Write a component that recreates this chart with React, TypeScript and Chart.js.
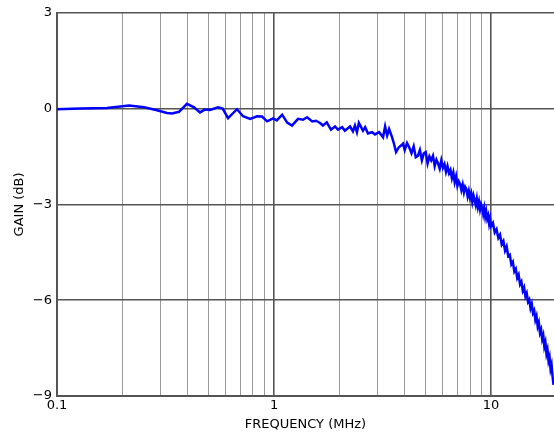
import { useEffect, useRef } from 'react';
import { Chart, registerables } from 'chart.js';

Chart.register(...registerables);

const FREQ_MHZ = [
  0.1, 0.128, 0.17, 0.215, 0.252, 0.289, 0.321, 0.339, 0.365, 0.397, 0.428, 0.456, 0.48, 0.507,
  0.552, 0.58, 0.614, 0.675, 0.72, 0.776, 0.835, 0.88, 0.93, 0.99, 1.03, 1.09, 1.15, 1.21,
  1.29, 1.36, 1.42, 1.5, 1.56, 1.63, 1.68, 1.75, 1.83, 1.91, 1.97, 2.06, 2.12, 2.24, 2.31,
  2.36, 2.41, 2.46, 2.57, 2.63, 2.71, 2.83, 2.92, 3.05, 3.18, 3.25, 3.32, 3.39, 3.5, 3.57,
  3.65, 3.76, 3.86, 3.93,
  4.0, 4.1, 4.2, 4.3, 4.4, 4.5, 4.6, 4.7, 4.8, 4.9, 5.0, 5.1, 5.2, 5.3, 5.4, 5.5, 5.6, 5.7,
  5.8, 5.9, 6.0, 6.1, 6.2, 6.3, 6.4, 6.5, 6.6, 6.7, 6.8, 6.9, 7.0, 7.1, 7.2, 7.3, 7.4, 7.5,
  7.6, 7.7, 7.8, 7.9, 8.0, 8.1, 8.2, 8.3, 8.4, 8.5, 8.6, 8.7, 8.8, 8.9, 9.0, 9.1, 9.2, 9.3,
  9.4, 9.5, 9.6, 9.7, 9.8, 9.9, 10.0,
  10.2, 10.4, 10.6, 10.8, 11.0, 11.2, 11.4, 11.6, 11.8, 12.0, 12.2, 12.4, 12.6, 12.8, 13.0,
  13.2, 13.4, 13.6, 13.8, 14.0, 14.2, 14.4, 14.6, 14.8, 15.0, 15.2, 15.4, 15.6, 15.8, 16.0,
  16.2, 16.4, 16.6, 16.8, 17.0, 17.2, 17.4, 17.6, 17.8, 18.0, 18.2, 18.4, 18.6, 18.8, 19.0,
  19.2, 19.4,
];

const GAIN_DB = [
  -0.02, 0.0, 0.02, 0.1, 0.04, -0.05, -0.14, -0.15, -0.1, 0.15, 0.04, -0.12, -0.03, -0.04,
  0.04, 0.0, -0.3, -0.02, -0.24, -0.32, -0.24, -0.25, -0.4, -0.31, -0.37, -0.19, -0.44, -0.53,
  -0.32, -0.35, -0.27, -0.4, -0.38, -0.45, -0.53, -0.43, -0.66, -0.56, -0.66, -0.58, -0.69, -0.56, -0.71,
  -0.53, -0.74, -0.45, -0.69, -0.58, -0.78, -0.74, -0.81, -0.74, -0.9, -0.56, -0.84, -0.64, -0.9, -1.1,
  -1.36, -1.21, -1.15, -1.1,
  -1.3, -1.08, -1.22, -1.4, -1.18, -1.52, -1.48, -1.3, -1.62, -1.4, -1.36, -1.72, -1.5, -1.62, -1.48, -1.8, -1.6, -1.72,
  -1.88, -1.62, -1.85, -1.74, -1.98, -1.8, -2.02, -1.92, -2.18, -2.0, -2.3, -2.12, -2.42, -2.28, -2.36, -2.55, -2.38, -2.62,
  -2.45, -2.52, -2.75, -2.58, -2.8, -2.66, -2.92, -2.72, -2.86, -3.02, -2.82, -3.08, -2.92, -3.16, -3.0, -3.1, -3.3, -3.12,
  -3.38, -3.22, -3.45, -3.35, -3.6, -3.45, -3.68,
  -3.58, -3.88, -3.78, -4.05, -3.95, -4.25, -4.15, -4.45, -4.32, -4.62, -4.58, -4.88, -4.8, -5.1, -5.02,
  -5.3, -5.2, -5.5, -5.42, -5.7, -5.6, -5.88, -5.78, -6.05, -5.98, -6.25, -6.12, -6.4, -6.32, -6.62,
  -6.5, -6.82, -6.7, -7.02, -6.92, -7.22, -7.1, -7.45, -7.32, -7.68, -7.55, -7.9, -7.78, -8.15, -8.02,
  -8.38, -8.65,
];

const X_MAJOR = [0.1, 1, 10];
const X_MINOR = [0.2, 0.3, 0.4, 0.5, 0.6, 0.7, 0.8, 0.9, 2, 3, 4, 5, 6, 7, 8, 9];
const Y_TICKS = [-9, -6, -3, 0, 3];

const X_MIN = 0.1;
const X_MAX = 19.5;

const FONT = { family: 'DejaVu Sans', size: 13 };
const MAJOR_COLOR = '#555555';
const MINOR_COLOR = '#999999';

export default function App() {
  const ref = useRef<HTMLCanvasElement>(null);

  useEffect(() => {
    if (!ref.current) return;
    const chart = new Chart(ref.current, {
      type: 'line',
      data: {
        datasets: [
          {
            data: FREQ_MHZ.map((f, i) => ({ x: f, y: GAIN_DB[i] })),
            borderColor: '#0000ff',
            borderWidth: 2.5,
            pointRadius: 0,
            tension: 0,
            fill: false,
          },
        ],
      },
      options: {
        responsive: false,
        animation: false,
        layout: { padding: { top: 12, right: 0, left: 0, bottom: 0 } },
        plugins: { legend: { display: false }, tooltip: { enabled: false } },
        scales: {
          x: {
            type: 'logarithmic',
            min: X_MIN,
            max: X_MAX,
            afterBuildTicks: (s: any) => {
              s.ticks = [...X_MAJOR, ...X_MINOR].sort((a, b) => a - b).map((v) => ({ value: v }));
            },
            afterFit: (s: any) => {
              s.height = 45;
            },
            ticks: {
              autoSkip: false,
              maxRotation: 0,
              minRotation: 0,
              padding: 2,
              color: '#000',
              font: FONT,
              callback: (v: any) => (X_MAJOR.includes(Number(v)) ? String(v) : ''),
            },
            grid: {
              drawTicks: false,
              color: (ctx: any) => (X_MAJOR.includes(ctx.tick?.value) ? MAJOR_COLOR : MINOR_COLOR),
              lineWidth: (ctx: any) => (X_MAJOR.includes(ctx.tick?.value) ? 1.6 : 1),
            },
            border: { color: MAJOR_COLOR, width: 2 },
            title: {
              display: true,
              text: 'FREQUENCY (MHz)',
              color: '#000',
              font: FONT,
              padding: { top: 0, bottom: 9 },
            },
          },
          y: {
            type: 'linear',
            min: -9,
            max: 3,
            afterBuildTicks: (s: any) => {
              s.ticks = Y_TICKS.map((v) => ({ value: v }));
            },
            afterFit: (s: any) => {
              s.width = 57;
            },
            ticks: {
              padding: 5,
              color: '#000',
              font: FONT,
              callback: (v: any) => (Number(v) < 0 ? '\u2212' + String(-Number(v)) : String(v)),
            },
            grid: {
              drawTicks: false,
              color: MAJOR_COLOR,
              lineWidth: 1.6,
            },
            border: { color: MAJOR_COLOR, width: 2 },
            title: {
              display: true,
              text: 'GAIN (dB)',
              color: '#000',
              font: FONT,
              padding: { top: 12, bottom: 0 },
            },
          },
        },
      },
    } as any);
    return () => chart.destroy();
  }, []);

  return (
    <div style={{ position: 'fixed', left: 0, top: 0, width: 554, height: 441, background: '#fff' }}>
      <canvas ref={ref} width={554} height={441} style={{ display: 'block' }} />
    </div>
  );
}
